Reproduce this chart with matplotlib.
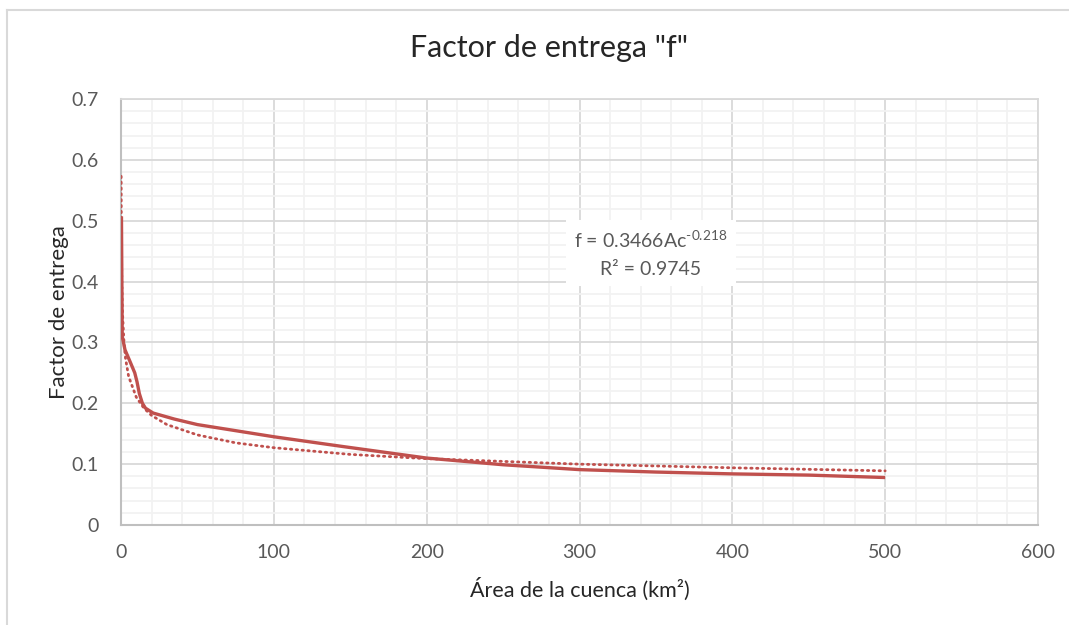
import numpy as np
import matplotlib.pyplot as plt
from matplotlib.lines import Line2D
from matplotlib.ticker import MultipleLocator

# datos
area = [0.3, 0.8, 2.6, 6, 9, 10.5, 12, 14, 16, 21, 35, 50, 75, 100, 145, 200, 250, 300, 350, 400, 450, 500]
factor = [0.507, 0.31, 0.288, 0.268, 0.25, 0.235, 0.216, 0.2, 0.192, 0.184, 0.174, 0.165, 0.155, 0.145,
          0.129, 0.11, 0.099, 0.091, 0.087, 0.084, 0.082, 0.078]

area_trend = [0.1, 0.2, 0.5, 1, 2, 3, 5, 10, 15, 20, 30, 50, 75, 100, 150, 200, 300, 400, 500]
factor_trend = [0.573, 0.492, 0.403, 0.347, 0.298, 0.273, 0.244, 0.210, 0.192, 0.180, 0.165, 0.148,
                0.135, 0.127, 0.116, 0.109, 0.100, 0.094, 0.089]

red = "#C0504D"
gray_txt = "#595959"
plt.rcParams['font.family'] = ['Lato', 'DejaVu Sans']
plt.rcParams['mathtext.fontset'] = 'custom'
plt.rcParams['mathtext.rm'] = 'Lato'

fig = plt.figure(figsize=(10.69, 6.25), dpi=100)
ax = fig.add_axes([121/1069, 1-525/625, (1038-121)/1069, (525-99)/625])

ax.plot(area, factor, c=red, lw=2.4, solid_capstyle="butt", zorder=3)
ax.plot(area_trend, factor_trend, c=red, lw=2.0, linestyle=(0, (0.5, 1.6)),
        dash_capstyle="round", zorder=3)

ax.set_xlim(0, 600)
ax.set_ylim(0, 0.7)
ax.xaxis.set_major_locator(MultipleLocator(100))
ax.xaxis.set_minor_locator(MultipleLocator(20))
ax.yaxis.set_major_locator(MultipleLocator(0.1))
ax.yaxis.set_minor_locator(MultipleLocator(0.02))
ax.set_yticks(np.arange(0, 0.71, 0.1))
ax.set_yticklabels(["0", "0.1", "0.2", "0.3", "0.4", "0.5", "0.6", "0.7"])
ax.grid(which="major", color="#D9D9D9", lw=1.3)
ax.grid(which="minor", color="#F2F2F2", lw=1.3)
ax.set_axisbelow(True)
ax.tick_params(which="both", length=0, labelsize=14, labelcolor=gray_txt)
ax.tick_params(axis="y", pad=16)
ax.tick_params(axis="x", pad=14)

for s in ["top", "right"]:
    ax.spines[s].set_color("#D9D9D9")
    ax.spines[s].set_linewidth(1.3)
for s in ["left", "bottom"]:
    ax.spines[s].set_color("#BFBFBF")
    ax.spines[s].set_linewidth(1.5)

fig.text(549/1069, 1-48/625, 'Factor de entrega "f"', fontsize=22, color="#262626",
         ha="center", va="center")
ax.set_xlabel("Área de la cuenca (km²)", fontsize=15.5, color="#262626", labelpad=12)
ax.set_ylabel("Factor de entrega", fontsize=16, color="#262626", labelpad=2)

ax.text(0.578, 0.638, "f = 0.3466Ac$^{\\text{-0.218}}$\nR² = 0.9745", transform=ax.transAxes,
        ha="center", va="center", fontsize=14, color=gray_txt, linespacing=1.75,
        bbox=dict(facecolor="white", edgecolor="none", pad=6), zorder=4)

# borde exterior del gráfico
fig.add_artist(Line2D([7/1069, 7/1069], [0, 1-10/625], color="#D9D9D9", lw=1.5))
fig.add_artist(Line2D([7/1069, 1], [1-10/625, 1-10/625], color="#D9D9D9", lw=1.5))

fig.savefig("out.png", dpi=100)
